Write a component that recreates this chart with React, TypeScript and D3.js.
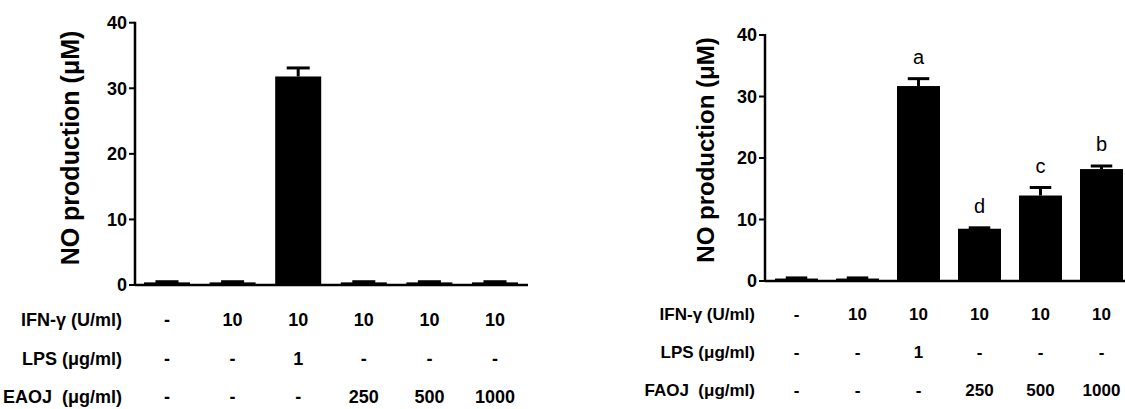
import React from "react";
import * as d3 from "d3";

const groups = ["G1", "G2", "G3", "G4", "G5", "G6"];
const leftMeans = [0.4, 0.4, 31.8, 0.4, 0.4, 0.4];
const leftErrors = [0.1, 0.1, 1.3, 0.1, 0.1, 0.1];
const rightMeans = [0.4, 0.4, 31.7, 8.5, 13.9, 18.2];
const rightErrors = [0.1, 0.1, 1.2, 0.15, 1.3, 0.5];
const rightLetters = ["", "", "a", "d", "c", "b"];
const yTicks = [0, 10, 20, 30, 40];
const rowLabelsLeft = ["IFN-γ (U/ml)", "LPS (μg/ml)", "EAOJ  (μg/ml)"];
const rowLabelsRight = ["IFN-γ (U/ml)", "LPS (μg/ml)", "FAOJ  (μg/ml)"];
const rowIFN = ["-", "10", "10", "10", "10", "10"];
const rowLPS = ["-", "-", "1", "-", "-", "-"];
const rowExtract = ["-", "-", "-", "250", "500", "1000"];
const yTitle = "NO production (μM)";

const FONT = "'Liberation Sans', Arial, sans-serif";

type PanelProps = {
  axisX: number;
  xEnd: number;
  yTop: number;
  yBottom: number;
  firstCenter: number;
  step: number;
  barWidth: number;
  means: number[];
  errors: number[];
  letters?: string[];
  rowLabels: string[];
  rowLabelX: number;
  rowYs: number[];
  titleX: number;
  titleY: number;
  titleSize: number;
  tickFont: number;
  tableFont: number;
};

function Panel(p: PanelProps) {
  const y = d3.scaleLinear().domain([0, 40]).range([p.yBottom, p.yTop]);
  const x = d3
    .scaleBand<string>()
    .domain(groups)
    .range([p.firstCenter - p.step / 2, p.firstCenter - p.step / 2 + p.step * groups.length])
    .paddingInner(1 - p.barWidth / p.step)
    .paddingOuter((1 - p.barWidth / p.step) / 2);
  const rows = [rowIFN, rowLPS, rowExtract];
  const capW = p.barWidth * 0.5;
  return (
    <g fontFamily={FONT}>
      {groups.map((g, i) => {
        const x0 = x(g)!;
        const top = y(p.means[i]);
        const errTop = y(p.means[i] + p.errors[i]);
        const cx = x0 + x.bandwidth() / 2;
        return (
          <g key={g}>
            <rect x={x0} y={top} width={x.bandwidth()} height={p.yBottom - top} fill="#000" />
            <line x1={cx} x2={cx} y1={top} y2={errTop} stroke="#000" strokeWidth={3} />
            <line x1={cx - capW / 2} x2={cx + capW / 2} y1={errTop} y2={errTop} stroke="#000" strokeWidth={3} />
            {p.letters && p.letters[i] ? (
              <text x={cx} y={errTop - 22} dy="0.35em" textAnchor="middle" fontSize={20} fill="#000">
                {p.letters[i]}
              </text>
            ) : null}
          </g>
        );
      })}
      <line x1={p.axisX} x2={p.axisX} y1={p.yTop - 1} y2={p.yBottom} stroke="#000" strokeWidth={2.5} />
      <line x1={p.axisX} x2={p.xEnd} y1={p.yBottom} y2={p.yBottom} stroke="#000" strokeWidth={2.5} />
      {yTicks.map((t) => (
        <g key={t}>
          <line x1={p.axisX - 6} x2={p.axisX} y1={y(t)} y2={y(t)} stroke="#000" strokeWidth={2} />
          <text
            x={p.axisX - 8}
            y={y(t)}
            dy="0.36em"
            textAnchor="end"
            fontSize={p.tickFont}
            fontWeight="bold"
            fill="#000"
          >
            {t}
          </text>
        </g>
      ))}
      <text
        transform={`translate(${p.titleX},${p.titleY}) rotate(-90)`}
        textAnchor="middle"
        dy="0.35em"
        fontSize={p.titleSize}
        fontWeight="bold"
        fill="#000"
      >
        {yTitle}
      </text>
      {p.rowLabels.map((lab, r) => (
        <g key={lab}>
          <text
            x={p.rowLabelX}
            y={p.rowYs[r]}
            dy="0.36em"
            textAnchor="end"
            fontSize={p.tableFont}
            fontWeight="bold"
            fill="#000"
            style={{ whiteSpace: "pre" }}
          >
            {lab}
          </text>
          {groups.map((g, i) => (
            <text
              key={g}
              x={x(g)! + x.bandwidth() / 2}
              y={p.rowYs[r]}
              dy="0.36em"
              textAnchor="middle"
              fontSize={p.tableFont}
              fontWeight="bold"
              fill="#000"
            >
              {rows[r][i]}
            </text>
          ))}
        </g>
      ))}
    </g>
  );
}

export default function App() {
  return (
    <svg
      width={1125}
      height={409}
      style={{ position: "absolute", left: 0, top: 0, background: "#fff" }}
    >
      <rect width={1125} height={409} fill="#fff" />
      <Panel
        axisX={135}
        xEnd={528}
        yTop={22.7}
        yBottom={285}
        firstCenter={167}
        step={65.6}
        barWidth={46}
        means={leftMeans}
        errors={leftErrors}
        rowLabels={rowLabelsLeft}
        rowLabelX={122}
        rowYs={[320, 359, 397]}
        titleX={70}
        titleY={148}
        titleSize={25}
        tickFont={18}
        tableFont={18}
      />
      <Panel
        axisX={765}
        xEnd={1125}
        yTop={35}
        yBottom={281}
        firstCenter={796.5}
        step={61}
        barWidth={43}
        means={rightMeans}
        errors={rightErrors}
        letters={rightLetters}
        rowLabels={rowLabelsRight}
        rowLabelX={755}
        rowYs={[314, 352, 390]}
        titleX={706}
        titleY={150}
        titleSize={24}
        tickFont={18}
        tableFont={17}
      />
    </svg>
  );
}
